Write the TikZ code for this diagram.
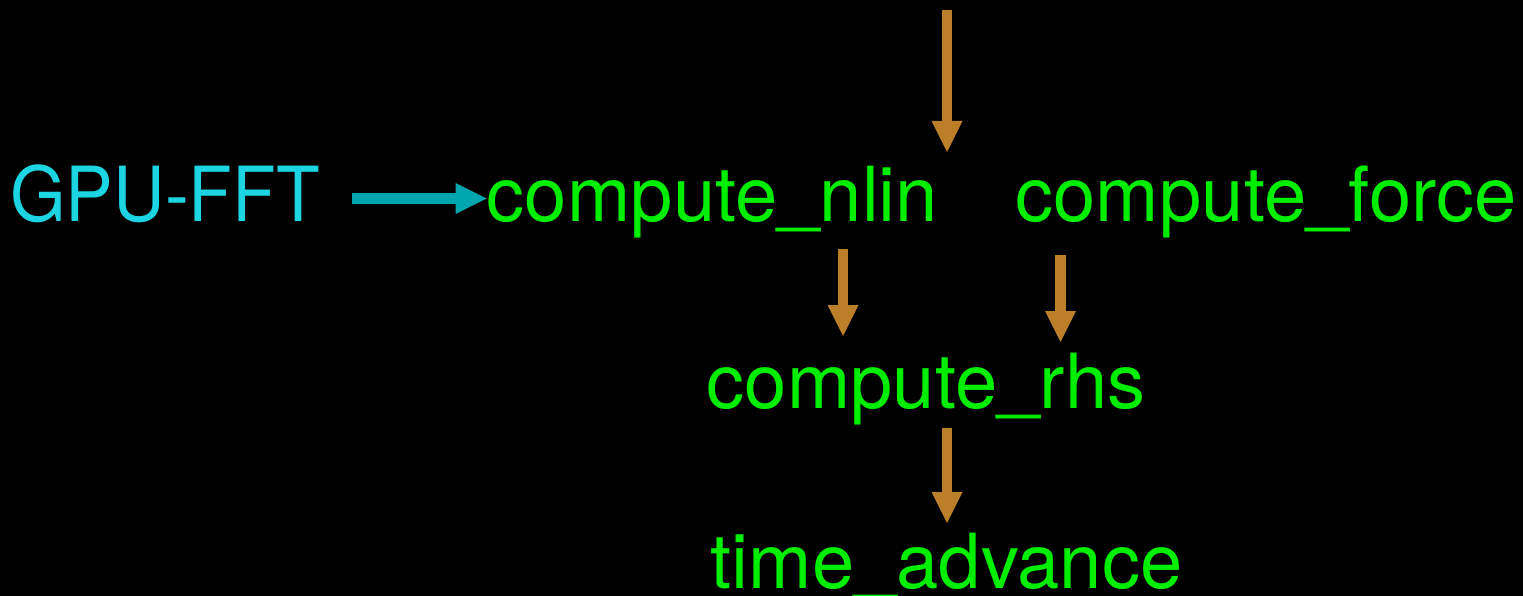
\documentclass[tikz,border=0pt]{standalone}
\usepackage{fontspec}
\usepackage{graphicx}
\setmainfont{TeX Gyre Heros}
\usetikzlibrary{arrows.meta,calc}

\definecolor{flowgreen}{RGB}{0,238,0}
\definecolor{gpucyan}{RGB}{28,212,226}
\definecolor{linkteal}{RGB}{0,166,174}
\definecolor{callorange}{RGB}{187,127,42}

% underscore set a little closer to the baseline
\newcommand{\us}{\raisebox{3pt}{\_}}

\begin{document}
\begin{tikzpicture}[x=1pt,y=1pt,
  label/.style={inner sep=0pt,anchor=base,font=\fontsize{76}{80}\selectfont},
  routine/.style={label,text=flowgreen},
  library/.style={label,text=gpucyan},
  callarrow/.style={draw=callorange,line width=10.5pt,
    -{Triangle[width=31pt,length=31pt,line width=0pt]}},
  linkarrow/.style={draw=linkteal,line width=10.5pt,
    -{Triangle[width=31pt,length=31pt,line width=0pt]}}]

  % canvas
  \fill[black] (0,0) rectangle (1523,-596);
  \useasboundingbox (0,0) rectangle (1523,-596);

  % routines
  \node[library] (gpu)   at (165,-222)   {\scalebox{0.94}[1]{GPU-FFT}};
  \node[routine] (nlin)  at (712.5,-222) {compute\us nlin};
  \node[routine] (force) at (1266,-222)  {compute\us force};
  \node[routine] (rhs)   at (926,-408)   {compute\us rhs};
  \node[routine] (time)  at (946.5,-588) {time\us advance};

  % incoming call from above
  \coordinate (caller) at (947,-10);
  \coordinate (entry)  at (947,-152);
  \draw[callarrow] (caller) -- (entry);

  % library link
  \draw[linkarrow] ($(gpu.base east)+(32,23.5)$) -- ($(nlin.base west)+(0,23.5)$);

  % call flow
  \draw[callarrow] ($(nlin.base)+(130.5,-27)$) -- ($(rhs.base)+(-83,72)$);
  \draw[callarrow] ($(force.base)+(-205.5,-33)$) -- ($(rhs.base)+(134.5,66)$);
  \draw[callarrow] ($(rhs.base)+(21,-20)$) -- ($(time.base)+(0.5,65)$);
\end{tikzpicture}
\end{document}
